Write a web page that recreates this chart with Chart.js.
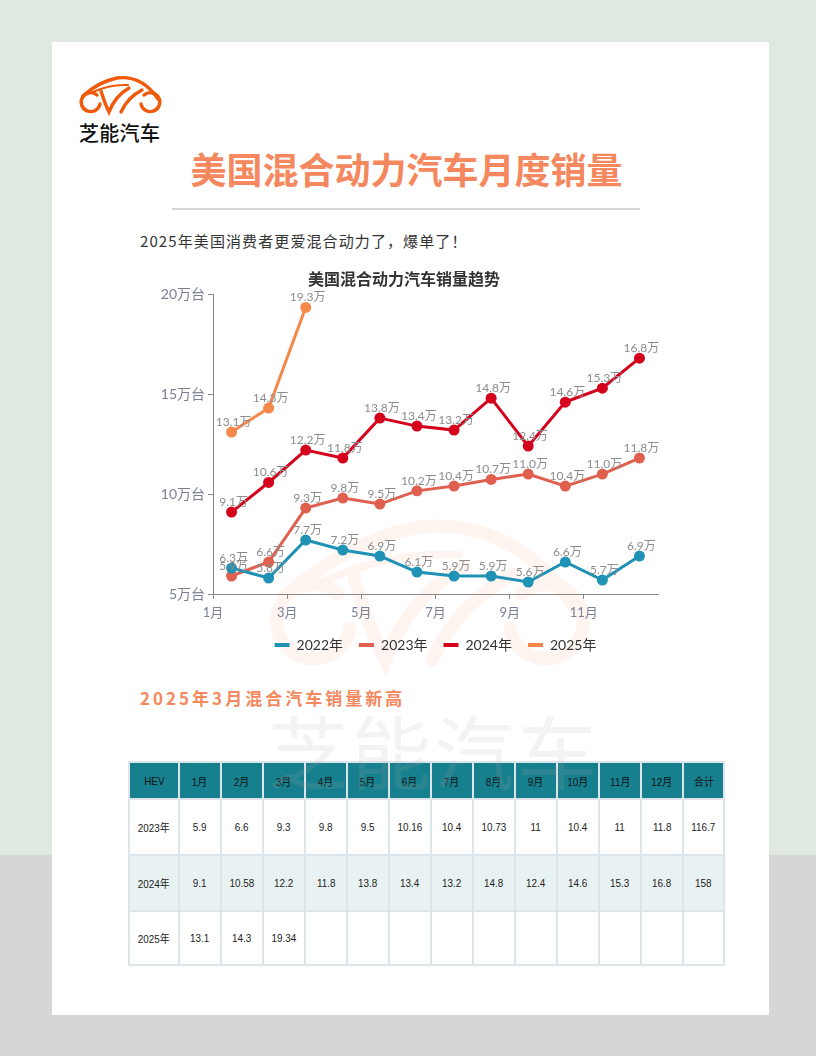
<!DOCTYPE html>
<html lang="zh-CN">
<head>
<meta charset="utf-8">
<title>美国混合动力汽车月度销量</title>
<script src="https://cdn.jsdelivr.net/npm/chart.js@4.4.1/dist/chart.umd.min.js"></script>
<style>
  html, body { margin: 0; padding: 0; }
  body {
    width: 816px; height: 1056px; position: relative; overflow: hidden;
    background: linear-gradient(to bottom, #dfe9df 0, #dfe9df 855px, #d6d6d6 855px, #d6d6d6 100%);
    font-family: Lato, "Noto Sans CJK SC", sans-serif;
  }
  .card { position: absolute; left: 52px; top: 42px; width: 717px; height: 973px; background: #fff; }
  .abs { position: absolute; }
  #deco { position: absolute; left: 0; top: 0; width: 816px; height: 1056px; pointer-events: none; }
  .brand { left: 79px; top: 118px; font: 500 20px "Noto Sans CJK SC", sans-serif; color: #111; letter-spacing: 0.3px; }
  .title { left: 48px; width: 717px; top: 142px; text-align: center; font: 700 36px "Noto Sans CJK SC", sans-serif; color: #f5885e; }
  .rule { left: 172px; top: 208px; width: 468px; height: 2px; background: #d2d8d2; }
  .sub { left: 140px; top: 230px; font: 400 15px "Noto Sans CJK SC", sans-serif; color: #333; letter-spacing: 1.1px; }
  .sect { left: 140px; top: 685px; font: 700 17px "Noto Sans CJK SC", sans-serif; color: #f5885e; letter-spacing: 3px; }
  .wm { left: 268px; top: 690px; font: 400 80px "Noto Sans CJK SC", sans-serif; color: rgba(170,170,170,0.14); letter-spacing: 3px; pointer-events: none; z-index: 5; }
  #chartBox { position: absolute; left: 150px; top: 262px; width: 540px; height: 410px; z-index: 3; }
  table.hev {
    position: absolute; left: 128px; top: 761px; width: 595px;
    border-collapse: collapse; table-layout: fixed; z-index: 2;
    font-family: "Liberation Sans Narrow", "Liberation Sans", "Noto Sans CJK SC", sans-serif;
    font-size: 11px; color: #222;
  }
  table.hev td { border: 2px solid #dde4ea; text-align: center; padding: 0; }
  table.hev td span { display: inline-block; transform: scaleX(0.9); }
  table.hev tr.head td { background: #17808f; height: 35px; color: #111; }
  table.hev tr.r1 td { height: 54px; background: #fff; }
  table.hev tr.r2 td { height: 54px; background: #e9f2f3; }
  table.hev tr.r3 td { height: 52px; background: #fff; }
</style>
</head>
<body>
<div class="card"></div>

<svg id="deco" viewBox="0 0 816 1056">
  <g id="logo" fill="none" stroke="#f05a0a" stroke-width="3.4" stroke-linecap="round">
    <path d="M 83 96 Q 98 82 117 78 Q 142 75 158 99"/>
    <path d="M 93 92 Q 110 84 128 85" stroke-width="2"/>
    <path d="M 97 95 A 9.5 9.5 0 1 0 100 104"/>
    <path d="M 144 95 A 9.5 9.5 0 1 1 141 104"/>
    <path d="M 101 91 Q 105 104 109 112 Q 115 96 129 88"/>
    <path d="M 121 112 Q 128 97 142 90"/>
  </g>
  <use href="#logo" opacity="0.05" transform="translate(430,625) scale(3.9) translate(-120.5,-103)"/>
</svg>

<div class="abs brand">芝能汽车</div>
<div class="abs title">美国混合动力汽车月度销量</div>
<div class="abs rule"></div>
<div class="abs sub">2025年美国消费者更爱混合动力了，爆单了！</div>
<div class="abs sect">2025年3月混合汽车销量新高</div>

<div id="chartBox"><canvas id="trendChart" width="540" height="410"></canvas></div>

<table class="hev" id="hevTable">
  <colgroup id="cols"></colgroup>
</table>
<div class="abs wm">芝能汽车</div>

<script>
// ---- data ----
const months = ['1月', '2月', '3月', '4月', '5月', '6月', '7月', '8月', '9月', '10月', '11月', '12月'];
const xTickLabels = ['1月', '3月', '5月', '7月', '9月', '11月'];
const yTicks = [5, 10, 15, 20];

const seriesNames = ['2022年', '2023年', '2024年', '2025年'];
const sales2022 = [6.3, 5.8, 7.7, 7.2, 6.9, 6.1, 5.9, 5.9, 5.6, 6.6, 5.7, 6.9];
const sales2023 = [5.9, 6.6, 9.3, 9.8, 9.5, 10.16, 10.4, 10.73, 11, 10.4, 11, 11.8];
const sales2024 = [9.1, 10.58, 12.2, 11.8, 13.8, 13.4, 13.2, 14.8, 12.4, 14.6, 15.3, 16.8];
const sales2025 = [13.1, 14.3, 19.34];

const tableYears = ['2023年', '2024年', '2025年'];
const tableTotals = ['116.7', '158', ''];

const seriesColors = ['#1f92b5', '#e0604f', '#d5001c', '#f5894b'];

// ---- table ----
function addCell(tr, text) {
  const td = document.createElement('td');
  const sp = document.createElement('span');
  sp.textContent = text;
  td.appendChild(sp);
  tr.appendChild(td);
}

(function buildTable() {
  const table = document.getElementById('hevTable');
  const cols = document.getElementById('cols');
  const widths = [50].concat(months.map(() => 42), [41]);
  widths.forEach(w => {
    const c = document.createElement('col');
    c.style.width = w + 'px';
    cols.appendChild(c);
  });

  const head = document.createElement('tr');
  head.className = 'head';
  ['HEV'].concat(months, ['合计']).forEach(t => addCell(head, t));
  table.appendChild(head);

  const rows = [sales2023, sales2024, sales2025];
  rows.forEach((vals, r) => {
    const tr = document.createElement('tr');
    tr.className = 'r' + (r + 1);
    addCell(tr, tableYears[r]);
    months.forEach((m, i) => addCell(tr, vals[i] !== undefined ? String(vals[i]) : ''));
    addCell(tr, tableTotals[r]);
    table.appendChild(tr);
  });
})();

// ---- chart ----
Chart.defaults.font.family = 'Lato, "Noto Sans CJK SC", sans-serif';

// value labels above every point ("6.3万")
const valueLabels = {
  id: 'valueLabels',
  afterDatasetsDraw(chart) {
    const ctx = chart.ctx;
    ctx.save();
    ctx.font = '12px Lato, "Noto Sans CJK SC", sans-serif';
    ctx.fillStyle = '#8c8c8c';
    ctx.textAlign = 'center';
    ctx.textBaseline = 'middle';
    chart.data.datasets.forEach((ds, i) => {
      const meta = chart.getDatasetMeta(i);
      meta.data.forEach((pt, j) => {
        ctx.fillText(ds.data[j].y.toFixed(1) + '万', pt.x + 2, pt.y - 10);
      });
    });
    ctx.restore();
  }
};

const allSeries = [sales2022, sales2023, sales2024, sales2025];
const datasets = allSeries.map((vals, i) => ({
  label: seriesNames[i],
  data: vals.map((v, j) => ({ x: j + 0.5, y: v })),
  borderColor: seriesColors[i],
  backgroundColor: seriesColors[i],
  pointBackgroundColor: seriesColors[i],
  pointBorderColor: seriesColors[i],
  borderWidth: 3,
  pointRadius: 5.5,
  pointBorderWidth: 0,
  pointHoverRadius: 5.5,
  tension: 0
}));

const axisGrey = '#888';

new Chart(document.getElementById('trendChart'), {
  type: 'line',
  data: { datasets: datasets },
  plugins: [valueLabels],
  options: {
    responsive: false,
    animation: false,
    layout: { padding: { left: 0, right: 32, top: 0, bottom: 10 } },
    plugins: {
      title: {
        display: true,
        text: '美国混合动力汽车销量趋势',
        color: '#333',
        font: { size: 16, weight: 'bold', family: '"Noto Sans CJK SC", sans-serif' },
        padding: { top: 7, bottom: 6 }
      },
      legend: {
        position: 'bottom',
        fullSize: false,
        labels: {
          color: '#333',
          font: { size: 14 },
          boxWidth: 15,
          boxHeight: 4,
          padding: 16,
          generateLabels: function(chart) {
            return chart.data.datasets.map((ds, i) => ({
              text: ds.label,
              fillStyle: ds.borderColor,
              strokeStyle: ds.borderColor,
              lineWidth: 0,
              fontColor: '#333',
              datasetIndex: i
            }));
          }
        }
      },
      tooltip: { enabled: false }
    },
    scales: {
      x: {
        type: 'linear',
        min: 0,
        max: 12,
        afterBuildTicks: function(scale) {
          scale.ticks = xTickLabels.map((t, i) => ({ value: i * 2 }));
        },
        afterFit: function(scale) {
          scale.height = 28;
        },
        ticks: {
          color: '#7b8096',
          font: { size: 13 },
          padding: 6,
          maxRotation: 0,
          autoSkip: false,
          callback: function(value, index) {
            return xTickLabels[index];
          }
        },
        grid: { display: true, drawOnChartArea: false, drawTicks: true, tickLength: 5, color: axisGrey },
        border: { display: true, color: axisGrey, width: 1 }
      },
      y: {
        min: 5,
        max: 20,
        afterBuildTicks: function(scale) {
          scale.ticks = yTicks.map(v => ({ value: v }));
        },
        afterFit: function(scale) {
          scale.width = 63;
        },
        ticks: {
          color: '#7b8096',
          font: { size: 14 },
          padding: 3,
          callback: function(value) {
            return value + '万台';
          }
        },
        grid: { display: true, drawOnChartArea: false, drawTicks: true, tickLength: 5, color: axisGrey },
        border: { display: true, color: axisGrey, width: 1 }
      }
    }
  }
});
</script>
</body>
</html>
